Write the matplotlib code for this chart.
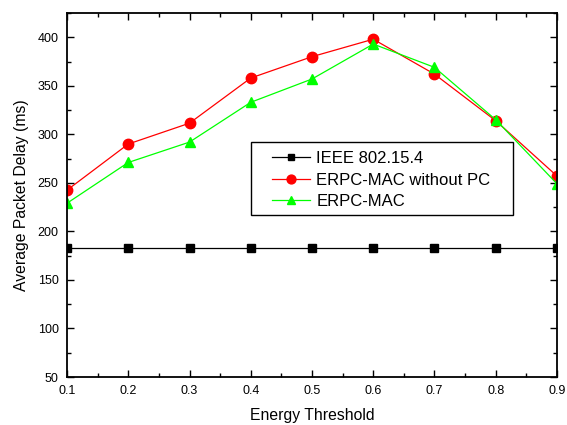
import matplotlib
matplotlib.use("Agg")
import matplotlib.pyplot as plt
from matplotlib.patches import Rectangle
from matplotlib.ticker import MultipleLocator

plt.rcParams['font.family'] = ['Liberation Sans', 'DejaVu Sans']

thresholds = [0.1, 0.2, 0.3, 0.4, 0.5, 0.6, 0.7, 0.8, 0.9]
ieee_802154 = [183, 183, 183, 183, 183, 183, 183, 183, 183]
erpc_no_pc = [242.5, 290, 311.5, 358, 380, 398, 362, 314, 257]
erpc_mac = [229, 271, 292, 333, 357, 393, 369, 315, 249]

fig = plt.figure(figsize=(5.67, 4.25), dpi=100)
ax = fig.add_axes([67/567, 1 - 377/425, (557-67)/567, (377-13)/425])

ax.plot(thresholds, ieee_802154, color='black', lw=0.9, marker='s', ms=5.5,
        label='IEEE 802.15.4')
ax.plot(thresholds, erpc_no_pc, color='red', lw=0.9, marker='o', ms=7.5,
        label='ERPC-MAC without PC')
ax.plot(thresholds, erpc_mac, color='#00ff00', lw=0.9, marker='^', ms=7.5,
        label='ERPC-MAC')

ax.set_xlim(0.1, 0.9)
ax.set_ylim(50, 425)
ax.xaxis.set_minor_locator(MultipleLocator(0.05))
ax.yaxis.set_major_locator(MultipleLocator(50))
ax.yaxis.set_minor_locator(MultipleLocator(25))
ax.set_xticks(thresholds)
ax.set_xticklabels([f'{t:.1f}' for t in thresholds])

ax.tick_params(which='both', direction='in', top=True, right=True,
               labelsize=9, pad=6)
ax.tick_params(which='major', length=5, width=1)
ax.tick_params(which='minor', length=3, width=1)
for s in ax.spines.values():
    s.set_linewidth(1.3)

ax.set_xlabel('Energy Threshold', fontsize=11.3, labelpad=8)
ax.set_ylabel('Average Packet Delay (ms)', fontsize=11.3, labelpad=6)

# legend box drawn separately so its padding can be set freely
ax.add_patch(Rectangle((0.3755, 0.445), 0.910 - 0.3755, 0.6456 - 0.445,
                       transform=ax.transAxes, facecolor='white',
                       edgecolor='black', lw=1.0, zorder=4))
leg = ax.legend(loc='upper left', bbox_to_anchor=(0.418, 0.62),
                fontsize=12, frameon=False, borderpad=0, borderaxespad=0,
                labelspacing=0.38, handlelength=2.3, handletextpad=0.36,
                markerscale=0.85)
leg.set_zorder(5)

fig.savefig('out.png', dpi=100)
